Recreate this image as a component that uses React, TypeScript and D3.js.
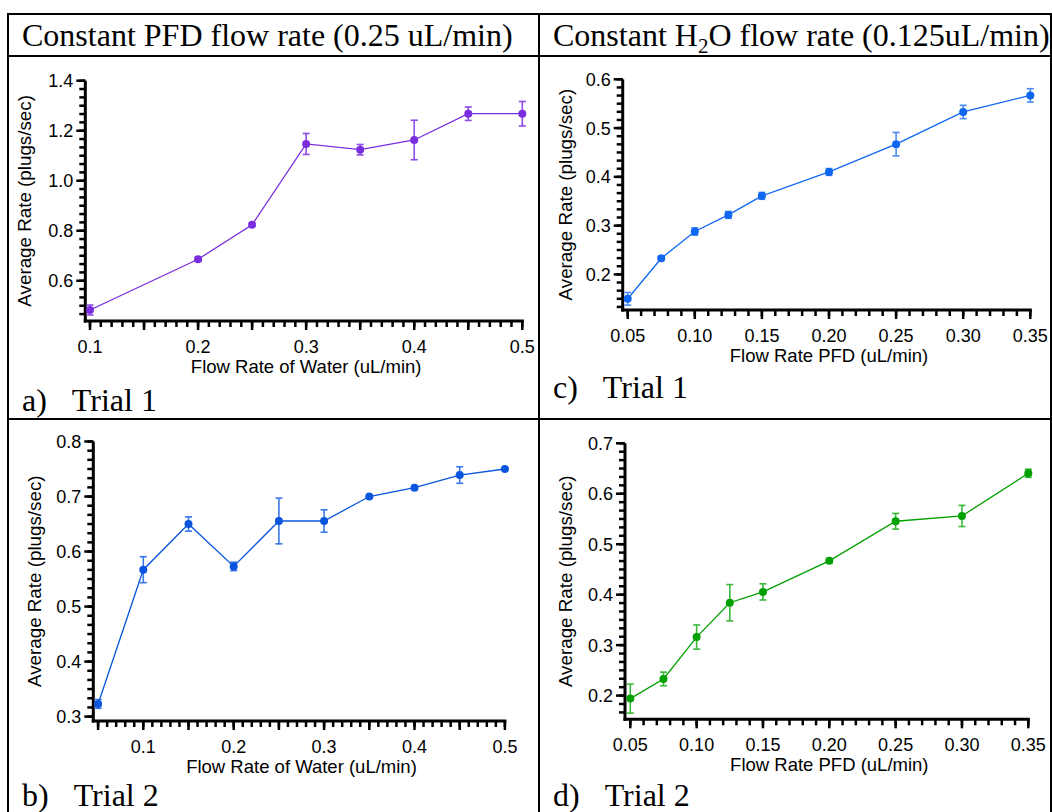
import React from "react";
import * as d3 from "d3";

// ---------- DATA ----------
const aFlowWater = [0.1, 0.2, 0.25, 0.3, 0.35, 0.4, 0.45, 0.5];
const aRate = [0.483, 0.686, 0.824, 1.147, 1.124, 1.163, 1.268, 1.268];
const aErr = [0.02, 0.008, 0.005, 0.042, 0.021, 0.079, 0.027, 0.049];

const bFlowWater = [0.05, 0.1, 0.15, 0.2, 0.25, 0.3, 0.35, 0.4, 0.45, 0.5];
const bRate = [0.323, 0.567, 0.65, 0.573, 0.6555, 0.6555, 0.7, 0.716, 0.739, 0.75];
const bErr = [0.008, 0.0236, 0.013, 0.0076, 0.0415, 0.0203, 0.002, 0.003, 0.015, 0.002];

const cFlowPFD = [0.05, 0.075, 0.1, 0.125, 0.15, 0.2, 0.25, 0.3, 0.35];
const cRate = [0.15, 0.233, 0.288, 0.322, 0.361, 0.41, 0.467, 0.533, 0.567];
const cErr = [0.013, 0.003, 0.0075, 0.007, 0.007, 0.007, 0.024, 0.0137, 0.0137];

const dFlowPFD = [0.05, 0.075, 0.1, 0.125, 0.15, 0.2, 0.25, 0.3, 0.35];
const dRate = [0.194, 0.233, 0.316, 0.384, 0.4055, 0.467, 0.5455, 0.556, 0.6406];
const dErr = [0.0287, 0.0135, 0.024, 0.036, 0.016, 0.004, 0.0155, 0.021, 0.008];

const xTicksWater = [0.1, 0.2, 0.3, 0.4, 0.5];
const xTicksPFD = [0.05, 0.1, 0.15, 0.2, 0.25, 0.3, 0.35];
const yTicksA = [0.6, 0.8, 1.0, 1.2, 1.4];
const yTicksB = [0.3, 0.4, 0.5, 0.6, 0.7, 0.8];
const yTicksC = [0.2, 0.3, 0.4, 0.5, 0.6];
const yTicksD = [0.2, 0.3, 0.4, 0.5, 0.6, 0.7];

const headerLeft = "Constant PFD flow rate (0.25 uL/min)";
const yTitle = "Average Rate (plugs/sec)";

type Panel = {
  xs: number[]; ys: number[]; errs: number[];
  color: string; errColor: string;
  xDomain: [number, number]; xRange: [number, number];
  yDomain: [number, number]; yRange: [number, number];
  yAxisX: number;
  xLabels: number[]; xMajorStep: number; xMajorStart: number; xMinorStep: number; xFmt: string;
  yLabels: number[]; yMinorStep: number; yFmt: string;
  xTitle: string; yTitleX: number;
  tag: string; trial: string; tagY: number; tagX: number;
};

const panels: Panel[] = [
  {
    xs: aFlowWater, ys: aRate, errs: aErr, color: "#7a2ee0", errColor: "#8f4ae8",
    xDomain: [0.1, 0.5], xRange: [90, 522.3], yDomain: [0.439, 1.4], yRange: [321, 80.7],
    yAxisX: 85.3, xLabels: xTicksWater, xMajorStep: 0.05, xMajorStart: 0.1, xMinorStep: 0.01, xFmt: ".1f",
    yLabels: yTicksA, yMinorStep: 0.2 / 6, yFmt: ".1f",
    xTitle: "Flow Rate of Water (uL/min)", yTitleX: 31, tag: "a)", trial: "Trial 1", tagX: 22, tagY: 411,
  },
  {
    xs: bFlowWater, ys: bRate, errs: bErr, color: "#0a55dd", errColor: "#3a78e6",
    xDomain: [0.05, 0.5], xRange: [98.1, 504.9], yDomain: [0.292, 0.8], yRange: [721, 441.5],
    yAxisX: 93.3, xLabels: xTicksWater, xMajorStep: 0.05, xMajorStart: 0.05, xMinorStep: 0.01, xFmt: ".1f",
    yLabels: yTicksB, yMinorStep: 0.1 / 6, yFmt: ".1f",
    xTitle: "Flow Rate of Water (uL/min)", yTitleX: 41, tag: "b)", trial: "Trial 2", tagX: 22, tagY: 806,
  },
  {
    xs: cFlowPFD, ys: cRate, errs: cErr, color: "#0f66f0", errColor: "#4a8cf2",
    xDomain: [0.05, 0.35], xRange: [627.7, 1030.3], yDomain: [0.127, 0.6], yRange: [310, 79.3],
    yAxisX: 622.7, xLabels: xTicksPFD, xMajorStep: 0.05, xMajorStart: 0.05, xMinorStep: 0.01, xFmt: ".2f",
    yLabels: yTicksC, yMinorStep: 0.1 / 6, yFmt: ".1f",
    xTitle: "Flow Rate PFD (uL/min)", yTitleX: 572, tag: "c)", trial: "Trial 1", tagX: 553, tagY: 398,
  },
  {
    xs: dFlowPFD, ys: dRate, errs: dErr, color: "#00a000", errColor: "#3cb83c",
    xDomain: [0.05, 0.35], xRange: [630.3, 1028.3], yDomain: [0.153, 0.7], yRange: [719.3, 443.3],
    yAxisX: 625, xLabels: xTicksPFD, xMajorStep: 0.05, xMajorStart: 0.05, xMinorStep: 0.01, xFmt: ".2f",
    yLabels: yTicksD, yMinorStep: 0.1 / 6, yFmt: ".1f",
    xTitle: "Flow Rate PFD (uL/min)", yTitleX: 572, tag: "d)", trial: "Trial 2", tagX: 553, tagY: 806,
  },
];

const SANS = "'Liberation Sans', Arial, sans-serif";
const SERIF = "'Liberation Serif', 'Times New Roman', serif";

function PanelView({ p }: { p: Panel }) {
  const x = d3.scaleLinear().domain(p.xDomain).range(p.xRange);
  const y = d3.scaleLinear().domain(p.yDomain).range(p.yRange);
  const axisY = p.yRange[0];
  const yTop = p.yRange[1];
  const eps = 1e-9;

  const xMinor = d3.range(p.xDomain[0], p.xDomain[1] + eps, p.xMinorStep);
  const xMajor = d3.range(p.xMajorStart, p.xDomain[1] + eps, p.xMajorStep);
  const yMax = p.yDomain[1];
  const yMinor = d3.range(yMax, p.yDomain[0] - eps, -p.yMinorStep);

  const line = d3.line<number>().x((_, i) => x(p.xs[i])).y((v) => y(v));
  const xFmt = d3.format(p.xFmt);
  const yFmt = d3.format(p.yFmt);
  const cap = 3.5;

  return (
    <g>
      {/* y axis */}
      <line x1={p.yAxisX} x2={p.yAxisX} y1={yTop} y2={axisY + 1.5} stroke="#000" strokeWidth={3} />
      {yMinor.map((v, i) => (
        <line key={"ym" + i} x1={p.yAxisX - 6} x2={p.yAxisX} y1={y(v)} y2={y(v)} stroke="#000" strokeWidth={2.5} />
      ))}
      {p.yLabels.map((v) => (
        <g key={"yl" + v}>
          <line x1={p.yAxisX - 9} x2={p.yAxisX} y1={y(v)} y2={y(v)} stroke="#000" strokeWidth={2.5} />
          <text x={p.yAxisX - 12} y={y(v)} dy="0.36em" textAnchor="end" fontFamily={SANS} fontSize={18}>
            {yFmt(v)}
          </text>
        </g>
      ))}
      {/* x axis */}
      <line x1={p.yAxisX - 1.5} x2={p.xRange[1] + 1.5} y1={axisY} y2={axisY} stroke="#000" strokeWidth={3} />
      {xMinor.map((v, i) => (
        <line key={"xm" + i} x1={x(v)} x2={x(v)} y1={axisY} y2={axisY + 6} stroke="#000" strokeWidth={2.5} />
      ))}
      {xMajor.map((v, i) => (
        <line key={"xM" + i} x1={x(v)} x2={x(v)} y1={axisY} y2={axisY + 9} stroke="#000" strokeWidth={2.5} />
      ))}
      {p.xLabels.map((v) => (
        <text key={"xl" + v} x={x(v)} y={axisY + 32} textAnchor="middle" fontFamily={SANS} fontSize={18}>
          {xFmt(v)}
        </text>
      ))}
      <text x={(p.xRange[0] + p.xRange[1]) / 2} y={axisY + 52} textAnchor="middle" fontFamily={SANS} fontSize={18.5}>
        {p.xTitle}
      </text>
      <text
        transform={`translate(${p.yTitleX},${(yTop + axisY) / 2}) rotate(-90)`}
        textAnchor="middle"
        fontFamily={SANS}
        fontSize={18.8}
      >
        {yTitle}
      </text>
      {/* error bars */}
      {p.xs.map((xv, i) => {
        const cx = x(xv);
        const y1 = y(p.ys[i] - p.errs[i]);
        const y2 = y(p.ys[i] + p.errs[i]);
        return (
          <g key={"e" + i} stroke={p.errColor} strokeWidth={1.6}>
            <line x1={cx} x2={cx} y1={y1} y2={y2} />
            <line x1={cx - cap} x2={cx + cap} y1={y1} y2={y1} />
            <line x1={cx - cap} x2={cx + cap} y1={y2} y2={y2} />
          </g>
        );
      })}
      <path d={line(p.ys) || ""} fill="none" stroke={p.color} strokeWidth={1.3} />
      {p.xs.map((xv, i) => (
        <circle key={"c" + i} cx={x(xv)} cy={y(p.ys[i])} r={4} fill={p.color} />
      ))}
      {/* panel tag */}
      <text x={p.tagX} y={p.tagY} fontFamily={SERIF} fontSize={32}>
        {p.tag}
        <tspan dx={25}>{p.trial}</tspan>
      </text>
    </g>
  );
}

export default function App() {
  return (
    <svg width={1052} height={812} style={{ position: "absolute", left: 0, top: 0, background: "#fff" }}>
      <rect x={0} y={0} width={1052} height={812} fill="#fff" />
      {/* table grid */}
      <g stroke="#000" strokeWidth={2}>
        <line x1={7} x2={1052} y1={14} y2={14} />
        <line x1={7} x2={1052} y1={56} y2={56} />
        <line x1={7} x2={1052} y1={419} y2={419} />
        <line x1={8} x2={8} y1={13} y2={812} />
        <line x1={539} x2={539} y1={13} y2={812} />
        <line x1={1051} x2={1051} y1={13} y2={812} />
      </g>
      <text x={22} y={46} fontFamily={SERIF} fontSize={32}>
        {headerLeft}
      </text>
      <text x={553} y={46} fontFamily={SERIF} fontSize={32}>
        Constant H
        <tspan dy={7} fontSize={21}>2</tspan>
        <tspan dy={-7}>O flow rate (0.125uL/min)</tspan>
      </text>
      {panels.map((p, i) => (
        <PanelView key={i} p={p} />
      ))}
    </svg>
  );
}
